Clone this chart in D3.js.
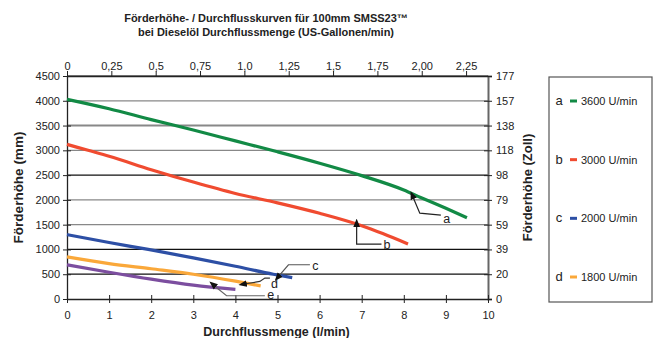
<!DOCTYPE html>
<html>
<head>
<meta charset="utf-8">
<script src="https://cdn.jsdelivr.net/npm/d3@7"></script>
<style>
  body { margin: 0; background: #fff; }
  svg { display: block; font-family: "Liberation Sans", Arial, sans-serif; }
</style>
</head>
<body>
<svg id="chart"></svg>
<script>
// flow in l/min, head in mm
const flowA = [0, 1, 2, 3, 4, 5, 6, 7, 8, 8.4, 9, 9.5];
const headA = [4030, 3840, 3620, 3410, 3190, 2970, 2740, 2490, 2200, 2050, 1830, 1640];
const flowB = [0, 0.5, 1, 2, 3, 4, 5, 6, 7, 7.5, 8.1];
const headB = [3120, 3000, 2880, 2610, 2360, 2130, 1940, 1730, 1480, 1320, 1110];
const flowC = [0, 1, 1.93, 3, 4, 4.9, 5.35];
const headC = [1300, 1140, 1000, 830, 660, 500, 430];
const flowD = [0, 1, 2, 3, 4, 4.6];
const headD = [850, 715, 610, 500, 360, 265];
const flowE = [0, 1, 2, 3, 4];
const headE = [690, 540, 400, 280, 195];

const seriesNames = ["a", "b", "c", "d", "e"];
const legendNames = ["a", "b", "c", "d"];
const legendLabels = ["3600 U/min", "3000 U/min", "2000 U/min", "1800 U/min"];

const mmTicks = [0, 500, 1000, 1500, 2000, 2500, 3000, 3500, 4000, 4500];
const zollLabels = ["0", "20", "39", "59", "79", "98", "118", "138", "157", "177"];
const flowTicks = [0, 1, 2, 3, 4, 5, 6, 7, 8, 9, 10];
const galTicks = [0, 0.25, 0.5, 0.75, 1.0, 1.25, 1.5, 1.75, 2.0, 2.25];
const galLabels = ["0", "0,25", "0,5", "0,75", "1,0", "1,25", "1,5", "1,75", "2,00", "2,25"];

// callout leaders in data units (l/min, mm): tip first, then bends
const calloutA = [[8.23, 2035], [8.38, 1733], [8.88, 1692]];
const calloutB = [[6.88, 1470], [6.88, 1108], [7.47, 1108]];
const calloutC = [[5.05, 480], [5.26, 691], [5.77, 691]];
const calloutD = [[4.25, 308], [4.58, 355], [4.7, 423], [4.82, 423]];
const calloutE = [[3.52, 254], [3.79, 66], [4.7, 66]];
// label baselines
const calloutText = [[9.02, 1530], [7.6, 1000], [5.9, 580], [4.93, 225], [4.84, 0]];

const width = 654, height = 338;
const margin = { top: 76, right: 166, bottom: 39, left: 67 };
const colors = ["#128a45", "#f04b30", "#2d4fa5", "#faa83a", "#7c4e9f"];
const darkGrid = new Set([500, 1000, 2500, 4500]);

const svg = d3.select("#chart").attr("width", width).attr("height", height);

const x = d3.scaleLinear().domain([0, 10]).range([margin.left, width - margin.right]);
const y = d3.scaleLinear().domain([0, 4500]).range([height - margin.bottom, margin.top]);
// top axis: US gallons/min sharing the same pixels
const xGal = d3.scaleLinear().domain([0, 10 / 4.213]).range(x.range());
const yZoll = d3.scalePoint().domain(zollLabels.slice().reverse()).range([margin.top, height - margin.bottom]);

// title
const title = svg.append("text")
  .attr("x", 266).attr("y", 22)
  .attr("text-anchor", "middle")
  .style("font-size", "11px").style("font-weight", "bold").attr("fill", "#222");
title.append("tspan").attr("x", 266).text("Förderhöhe- / Durchflusskurven für 100mm SMSS23™");
title.append("tspan").attr("x", 266).attr("dy", 14).text("bei Dieselöl Durchflussmenge (US-Gallonen/min)");

// grid
svg.append("g").selectAll("line").data(mmTicks.filter(d => d > 0)).join("line")
  .attr("x1", x(0)).attr("x2", x(10))
  .attr("y1", d => y(d)).attr("y2", d => y(d))
  .attr("stroke", d => darkGrid.has(d) ? "#111" : "#888")
  .attr("stroke-width", d => d === 3500 ? 2 : 1.2);

// axes
const styleAxis = g => {
  g.select(".domain").attr("stroke", "#222").attr("stroke-width", 1.3);
  g.selectAll(".tick line").attr("stroke", "#222");
  g.selectAll(".tick text").style("font-size", "11px").attr("fill", "#222");
};

svg.append("g")
  .attr("transform", `translate(${margin.left},0)`)
  .call(d3.axisLeft(y).tickValues(mmTicks).tickFormat(d3.format("d")).tickSize(4).tickSizeOuter(0).tickPadding(3))
  .call(styleAxis)
  .call(g => g.selectAll(".tick line").attr("x2", 4).attr("x1", -4));

svg.append("g")
  .attr("transform", `translate(${x(10)},0)`)
  .call(d3.axisRight(yZoll).tickSize(4).tickPadding(4))
  .call(styleAxis)
  .call(g => g.select(".domain").attr("stroke", "#666").attr("stroke-width", 2))
  .call(g => g.selectAll(".tick line").attr("x1", -4).attr("x2", 4));

svg.append("g")
  .attr("transform", `translate(0,${y(0)})`)
  .call(d3.axisBottom(x).tickValues(flowTicks).tickSize(4).tickSizeOuter(0).tickPadding(8))
  .call(styleAxis)
  .call(g => g.selectAll(".tick line").attr("y1", -4).attr("y2", 4));

svg.append("g")
  .attr("transform", `translate(0,${y(4500)})`)
  .call(d3.axisTop(xGal).tickValues(galTicks).tickFormat((d, i) => galLabels[i]).tickSize(5).tickSizeOuter(0).tickPadding(1))
  .call(styleAxis)
  .call(g => g.selectAll(".tick line").attr("y1", 0).attr("y2", -5));

// axis titles
svg.append("text")
  .attr("transform", `translate(23,${(y(0) + y(4500)) / 2}) rotate(-90)`)
  .attr("text-anchor", "middle")
  .style("font-size", "13.5px").style("font-weight", "bold").attr("fill", "#222")
  .text("Förderhöhe (mm)");

svg.append("text")
  .attr("transform", `translate(532,${(y(0) + y(4500)) / 2}) rotate(-90)`)
  .attr("text-anchor", "middle")
  .style("font-size", "13px").style("font-weight", "bold").attr("fill", "#222")
  .text("Förderhöhe (Zoll)");

svg.append("text")
  .attr("x", (x(0) + x(10)) / 2 - 1).attr("y", 336)
  .attr("text-anchor", "middle")
  .style("font-size", "12.5px").style("font-weight", "bold").attr("fill", "#222")
  .text("Durchflussmenge (l/min)");

// curves
const flows = [flowA, flowB, flowC, flowD, flowE];
const heads = [headA, headB, headC, headD, headE];
const line = d3.line().x(d => x(d[0])).y(d => y(d[1]));
const curve = d3.line().x(d => x(d[0])).y(d => y(d[1])).curve(d3.curveMonotoneX);

svg.append("g").selectAll("path").data(seriesNames).join("path")
  .attr("d", (n, i) => curve(flows[i].map((f, j) => [f, heads[i][j]])))
  .attr("fill", "none")
  .attr("stroke", (n, i) => colors[i])
  .attr("stroke-width", 3.2);

// callouts
svg.append("defs").append("marker")
  .attr("id", "arrow").attr("viewBox", "0 0 10 10")
  .attr("refX", 1).attr("refY", 5)
  .attr("markerWidth", 7).attr("markerHeight", 7)
  .attr("orient", "auto-start-reverse")
  .append("path").attr("d", "M0,1 L10,5 L0,9 Z").attr("fill", "#111");

const callouts = [calloutA, calloutB, calloutC, calloutD, calloutE];
const calloutColors = ["#222", "#222", "#555", "#333", "#666"];
svg.append("g").selectAll("path").data(callouts).join("path")
  .attr("d", d => line(d))
  .attr("fill", "none")
  .attr("stroke", (d, i) => calloutColors[i])
  .attr("stroke-width", 1.2)
  .attr("marker-start", "url(#arrow)");

svg.append("g").selectAll("text").data(calloutText).join("text")
  .attr("x", d => x(d[0])).attr("y", d => y(d[1]))
  .attr("text-anchor", "middle")
  .style("font-size", "12.5px").attr("fill", "#222")
  .text((d, i) => seriesNames[i]);

// legend
const legendY = d3.scalePoint().domain(legendNames).range([100, 276]);
svg.append("rect")
  .attr("x", 549).attr("y", 77).attr("width", 103).attr("height", 225)
  .attr("fill", "#fff").attr("stroke", "#555").attr("stroke-width", 1.2);

const items = svg.append("g").selectAll("g").data(legendNames).join("g")
  .attr("transform", d => `translate(0,${legendY(d)})`);
items.append("text").attr("x", 559).attr("y", 5)
  .attr("text-anchor", "middle").style("font-size", "13px").attr("fill", "#222")
  .text(d => d);
items.append("line").attr("x1", 570).attr("x2", 577).attr("y1", 1).attr("y2", 1)
  .attr("stroke", (d, i) => colors[i]).attr("stroke-width", 3);
items.append("text").attr("x", 581).attr("y", 5)
  .style("font-size", "11px").attr("fill", "#222")
  .text((d, i) => legendLabels[i]);
</script>
</body>
</html>
